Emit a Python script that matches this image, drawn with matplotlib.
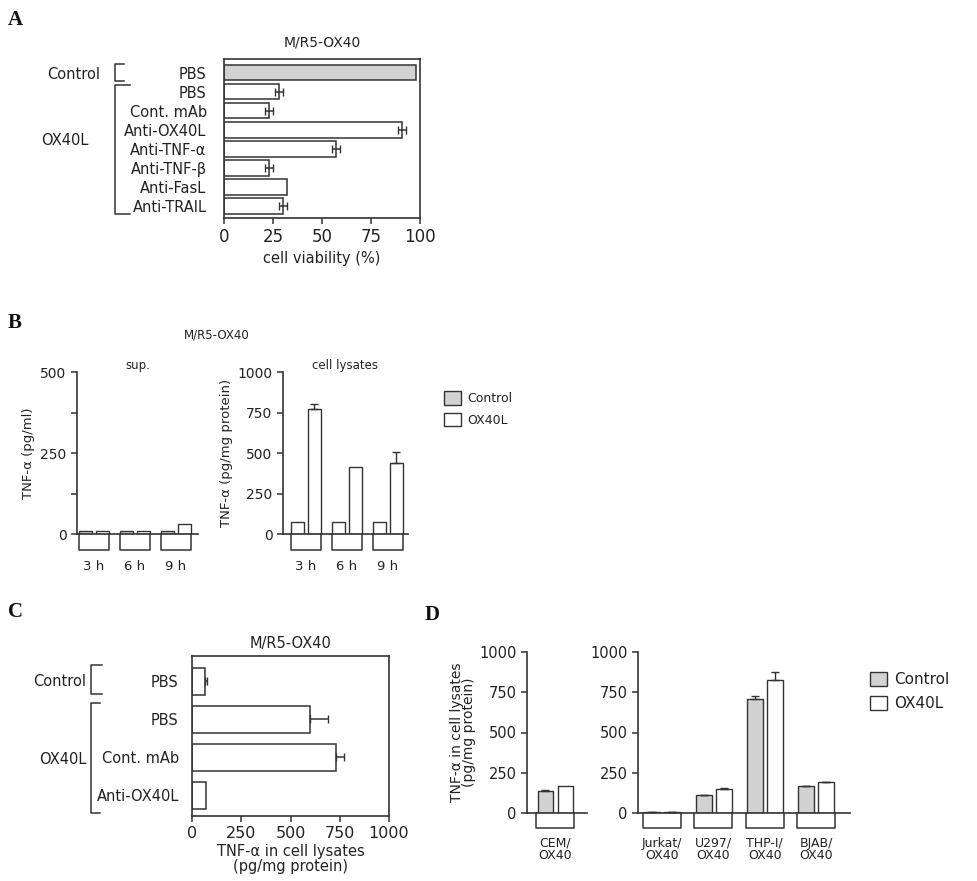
import numpy as np
import matplotlib
matplotlib.use('Agg')
import matplotlib.pyplot as plt
import matplotlib.transforms as mtrans

plt.rcParams['font.family'] = ['DejaVu Sans']

# ---- data ----
# Panel A: cell viability (%)
a_labels = ['PBS', 'PBS', 'Cont. mAb', 'Anti-OX40L', 'Anti-TNF-α', 'Anti-TNF-β', 'Anti-FasL', 'Anti-TRAIL']
a_values = [98, 28, 23, 91, 57, 23, 32, 30]
a_errors = [0, 2, 2, 2, 2, 2, 0, 2]

# Panel B: TNF-alpha, sup. and cell lysates
b_times = ['3 h', '6 h', '9 h']
b_sup_control = [8, 8, 8]
b_sup_ox40l = [8, 8, 30]
b_lys_control = [75, 75, 75]
b_lys_ox40l = [770, 415, 440]
b_lys_ox40l_err = [30, 0, 65]

# Panel C: TNF-alpha in cell lysates
c_labels = ['PBS', 'PBS', 'Cont. mAb', 'Anti-OX40L']
c_values = [65, 600, 730, 70]
c_errors = [12, 90, 40, 0]

# Panel D: TNF-alpha in cell lysates of other lines
d_left_lines = ['CEM/\nOX40']
d_left_control = [135]
d_left_control_err = [8]
d_left_ox40l = [170]
d_right_lines = ['Jurkat/\nOX40', 'U297/\nOX40', 'THP-I/\nOX40', 'BJAB/\nOX40']
d_right_control = [8, 110, 705, 165]
d_right_control_err = [0, 0, 20, 0]
d_right_ox40l = [5, 150, 825, 195]
d_right_ox40l_err = [0, 5, 50, 0]

W, H = 977, 881
fig = plt.figure(figsize=(W / 100, H / 100), dpi=100)

txt = '#222222'
edge = '#333333'
gray = '#d2d2d2'


def ax_px(x0, y0, x1, y1):
    return fig.add_axes([x0 / W, 1 - y1 / H, (x1 - x0) / W, (y1 - y0) / H])


def style(ax, box=False, lw=1.2):
    for s in ax.spines.values():
        s.set_color(edge)
        s.set_linewidth(lw)
    if not box:
        ax.spines['top'].set_visible(False)
        ax.spines['right'].set_visible(False)
    ax.tick_params(colors=edge, labelcolor=txt, width=1.1)


def bracket(ax, x_vert, x_stub, y0, y1, label, label_x, label_y, fs):
    tr = mtrans.blended_transform_factory(ax.transAxes, ax.transData)
    ax.plot([x_stub, x_vert, x_vert, x_stub], [y0, y0, y1, y1], color=edge,
            lw=1.1, transform=tr, clip_on=False)
    ax.text(label_x, label_y, label, transform=tr, ha='right', va='center',
            fontsize=fs, color=txt)


def group_boxes(ax, centers, half, depth):
    tr = mtrans.blended_transform_factory(ax.transData, ax.transAxes)
    for c in centers:
        ax.plot([c - half, c - half, c + half, c + half], [0, -depth, -depth, 0],
                color=edge, lw=1.1, transform=tr, clip_on=False)


def letter(x, y, s):
    fig.text(x / W, 1 - y / H, s, fontsize=15, fontweight='bold',
             family='Liberation Serif', color='#111111', ha='left', va='center')


# ---------------- Panel A ----------------
letter(8, 20, 'A')
axA = ax_px(224, 59, 420, 218)
ya = np.arange(len(a_labels))
colors_a = [gray] + ['white'] * (len(a_labels) - 1)
axA.barh(ya, a_values, height=0.82, color=colors_a, edgecolor=edge, lw=1.1)
for y, v, e in zip(ya, a_values, a_errors):
    if e > 0:
        axA.errorbar(v, y, xerr=e, fmt='none', ecolor=edge, elinewidth=1.1, capsize=3)
axA.set_ylim(7.63, -0.71)
axA.set_xlim(0, 100)
axA.set_xticks([0, 25, 50, 75, 100])
axA.set_yticks(ya)
axA.set_yticklabels(a_labels, fontsize=10.5)
axA.tick_params(axis='y', left=False, pad=9)
axA.tick_params(axis='x', labelsize=12, length=4)
style(axA, box=True)
axA.set_xlabel('cell viability (%)', fontsize=10.5, color=txt, labelpad=3)
axA.set_title('M/R5-OX40', fontsize=10, color=txt, pad=9)
bracket(axA, -0.555, -0.51, -0.45, 0.45, 'Control', -0.63, 0.1, 10.5)
bracket(axA, -0.555, -0.48, 0.65, 7.4, 'OX40L', -0.69, 3.55, 10.5)

# ---------------- Panel B ----------------
letter(8, 323, 'B')
fig.text(217 / W, 1 - 335 / H, 'M/R5-OX40', fontsize=8.5, color=txt, ha='center', va='center')
xb = np.arange(len(b_times))

axB1 = ax_px(77, 372, 198, 534)
axB1.bar(xb - 0.2, b_sup_control, width=0.32, color=gray, edgecolor=edge, lw=1.0)
axB1.bar(xb + 0.2, b_sup_ox40l, width=0.32, color='white', edgecolor=edge, lw=1.0)
axB1.set_xlim(-0.415, 2.54)
axB1.set_ylim(0, 500)
axB1.set_yticks([0, 125, 250, 375, 500])
axB1.set_yticklabels(['0', '', '250', '', '500'])
axB1.set_xticks(xb)
axB1.set_xticklabels(b_times)
style(axB1)
axB1.tick_params(axis='y', labelsize=10, length=4)
axB1.tick_params(axis='x', labelsize=9.5, length=0, pad=19)
group_boxes(axB1, xb, 0.37, 0.1)
axB1.set_title('sup.', fontsize=8.5, color=txt, pad=-2)
axB1.set_ylabel('TNF-α (pg/ml)', fontsize=9.5, color=txt, labelpad=4)

axB2 = ax_px(283, 372, 408, 534)
axB2.bar(xb - 0.2, b_lys_control, width=0.32, color='white', edgecolor=edge, lw=1.0)
axB2.bar(xb + 0.2, b_lys_ox40l, width=0.32, color='white', edgecolor=edge, lw=1.0)
for x, v, e in zip(xb + 0.2, b_lys_ox40l, b_lys_ox40l_err):
    if e > 0:
        axB2.errorbar(x, v, yerr=[[0], [e]], fmt='none', ecolor=edge, elinewidth=1.0, capsize=3)
axB2.set_xlim(-0.56, 2.49)
axB2.set_ylim(0, 1000)
axB2.set_yticks([0, 250, 500, 750, 1000])
axB2.set_xticks(xb)
axB2.set_xticklabels(b_times)
style(axB2)
axB2.tick_params(axis='y', labelsize=10, length=4)
axB2.tick_params(axis='x', labelsize=9.5, length=0, pad=19)
group_boxes(axB2, xb, 0.37, 0.1)
axB2.set_title('cell lysates', fontsize=8.5, color=txt, pad=-2)
axB2.set_ylabel('TNF-α (pg/mg protein)', fontsize=9.5, color=txt, labelpad=3)

hB1 = plt.Rectangle((0, 0), 1, 1, facecolor=gray, edgecolor=edge, lw=1.0)
hB2 = plt.Rectangle((0, 0), 1, 1, facecolor='white', edgecolor=edge, lw=1.0)
axB2.legend([hB1, hB2], ['Control', 'OX40L'], loc='upper left',
            bbox_to_anchor=(433 / W, 1 - 380 / H), bbox_transform=fig.transFigure,
            frameon=False, fontsize=9, handlelength=1.3, handleheight=1.3,
            handletextpad=0.5, labelspacing=0.6, labelcolor=txt)

# ---------------- Panel C ----------------
letter(8, 612, 'C')
axC = ax_px(192, 656, 389, 816)
yc = np.arange(len(c_labels))
colors_c = ['white'] * len(c_labels)
axC.barh(yc, c_values, height=0.71, color=colors_c, edgecolor=edge, lw=1.1)
for y, v, e in zip(yc, c_values, c_errors):
    if e > 0:
        axC.errorbar(v, y, xerr=[[0], [e]], fmt='none', ecolor=edge, elinewidth=1.1, capsize=3)
axC.set_ylim(3.54, -0.67)
axC.set_xlim(0, 1000)
axC.set_xticks([0, 250, 500, 750, 1000])
axC.set_yticks(yc)
axC.set_yticklabels(c_labels, fontsize=10.5)
axC.tick_params(axis='y', left=False, pad=6)
axC.tick_params(axis='x', labelsize=11.5, length=4)
style(axC, box=True)
axC.set_xlabel('TNF-α in cell lysates\n(pg/mg protein)', fontsize=10.5, color=txt,
               labelpad=2, linespacing=1.0)
axC.set_title('M/R5-OX40', fontsize=10.5, color=txt, pad=6)
bracket(axC, -0.513, -0.457, -0.43, 0.33, 'Control', -0.535, 0.0, 10.5)
bracket(axC, -0.513, -0.467, 0.56, 3.46, 'OX40L', -0.535, 2.05, 10.5)

# ---------------- Panel D ----------------
letter(425, 615, 'D')
axD1 = ax_px(527, 652, 587, 813)
xd1 = np.arange(len(d_left_lines))
axD1.bar(xd1 - 0.19, d_left_control, width=0.31, color=gray, edgecolor=edge, lw=1.0)
axD1.bar(xd1 + 0.2, d_left_ox40l, width=0.31, color='white', edgecolor=edge, lw=1.0)
axD1.errorbar(xd1 - 0.19, d_left_control, yerr=[[0] * len(xd1), d_left_control_err],
              fmt='none', ecolor=edge, elinewidth=1.0, capsize=3)
axD1.set_xlim(-0.55, 0.62)
axD1.set_ylim(0, 1000)
axD1.set_yticks([0, 250, 500, 750, 1000])
axD1.set_xticks(xd1)
axD1.set_xticklabels(d_left_lines, linespacing=0.95)
style(axD1)
axD1.tick_params(axis='y', labelsize=10.5, length=4)
axD1.tick_params(axis='x', labelsize=9, length=0, pad=17)
group_boxes(axD1, xd1, 0.37, 0.093)
axD1.set_ylabel('TNF-α in cell lysates\n(pg/mg protein)', fontsize=10, color=txt,
                labelpad=2, linespacing=0.85)

axD2 = ax_px(638, 652, 850, 813)
xd2 = np.arange(len(d_right_lines))
axD2.bar(xd2 - 0.19, d_right_control, width=0.31, color=gray, edgecolor=edge, lw=1.0)
axD2.bar(xd2 + 0.2, d_right_ox40l, width=0.31, color='white', edgecolor=edge, lw=1.0)
axD2.errorbar(xd2 - 0.19, d_right_control, yerr=[[0] * len(xd2), d_right_control_err],
              fmt='none', ecolor=edge, elinewidth=1.0, capsize=3)
axD2.errorbar(xd2 + 0.2, d_right_ox40l, yerr=[[0] * len(xd2), d_right_ox40l_err],
              fmt='none', ecolor=edge, elinewidth=1.0, capsize=3)
axD2.set_xlim(-0.47, 3.66)
axD2.set_ylim(0, 1000)
axD2.set_yticks([0, 250, 500, 750, 1000])
axD2.set_xticks(xd2)
axD2.set_xticklabels(d_right_lines, linespacing=0.95)
style(axD2)
axD2.tick_params(axis='y', labelsize=10.5, length=4)
axD2.tick_params(axis='x', labelsize=9, length=0, pad=17)
group_boxes(axD2, xd2, 0.37, 0.093)

hD1 = plt.Rectangle((0, 0), 1, 1, facecolor=gray, edgecolor=edge, lw=1.0)
hD2 = plt.Rectangle((0, 0), 1, 1, facecolor='white', edgecolor=edge, lw=1.0)
axD2.legend([hD1, hD2], ['Control', 'OX40L'], loc='upper left',
            bbox_to_anchor=(856 / W, 1 - 658 / H), bbox_transform=fig.transFigure,
            frameon=False, fontsize=11, handlelength=1.1, handleheight=1.1,
            handletextpad=0.5, labelspacing=0.55, labelcolor=txt)

fig.savefig('out.png', dpi=100, facecolor='white')
